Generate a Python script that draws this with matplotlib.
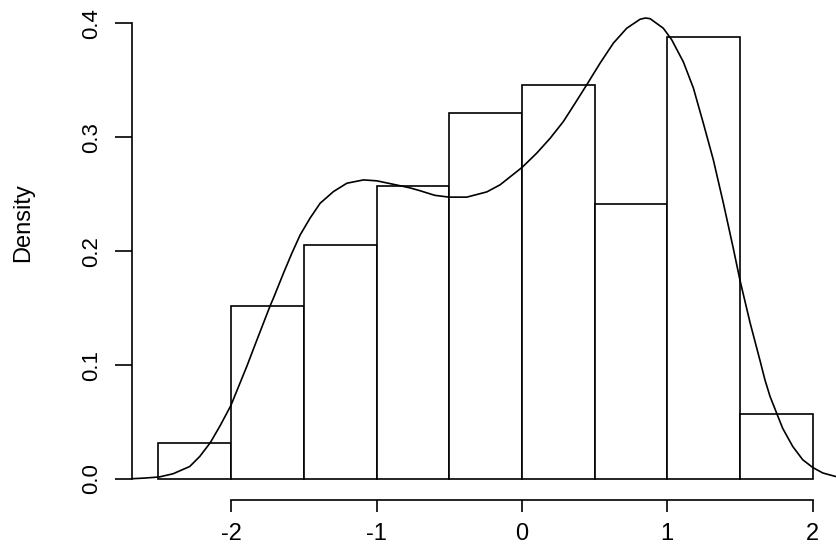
import matplotlib
matplotlib.use("Agg")
import matplotlib.pyplot as plt

# histogram (density scale)
breaks = [-2.5, -2.0, -1.5, -1.0, -0.5, 0.0, 0.5, 1.0, 1.5, 2.0]
density = [0.032, 0.152, 0.205, 0.257, 0.321, 0.346, 0.241, 0.388, 0.057]

# kernel density curve
kde_x = [-2.68, -2.60, -2.495, -2.40, -2.285, -2.216, -2.143, -2.075, -2.002,
         -1.892, -1.823, -1.732, -1.709, -1.640, -1.583, -1.525, -1.457,
         -1.388, -1.296, -1.204, -1.090, -0.998, -0.860, -0.769, -0.700,
         -0.600, -0.501, -0.379, -0.241, -0.150, 0.003, 0.102, 0.194, 0.285,
         0.366, 0.450, 0.538, 0.629, 0.721, 0.813, 0.850, 0.882, 0.973,
         1.031, 1.111, 1.180, 1.248, 1.317, 1.386, 1.455, 1.501, 1.570,
         1.638, 1.672, 1.707, 1.755, 1.794, 1.863, 1.932, 2.000, 2.070,
         2.156, 2.200]
kde_y = [0.0003, 0.0008, 0.0018, 0.0046, 0.011, 0.0198, 0.032, 0.047, 0.0645,
         0.099, 0.122, 0.152, 0.1588, 0.1807, 0.198, 0.2143, 0.229,
         0.242, 0.2523, 0.2596, 0.2625, 0.2617, 0.258, 0.2555, 0.253,
         0.249, 0.2474, 0.2474, 0.252, 0.2582, 0.2737, 0.286, 0.299, 0.3137,
         0.3298, 0.3468, 0.365, 0.3825, 0.3956, 0.4035, 0.4046, 0.404, 0.3956,
         0.3854, 0.366, 0.343, 0.3123, 0.2801, 0.2421, 0.202, 0.174, 0.137,
         0.104, 0.087, 0.0725, 0.057, 0.0445, 0.0286, 0.0169, 0.0102, 0.0053,
         0.0023, 0.0015]

x_ticks = [-2, -1, 0, 1, 2]
x_labels = ["-2", "-1", "0", "1", "2"]
y_ticks = [0.0, 0.1, 0.2, 0.3, 0.4]
y_labels = ["0.0", "0.1", "0.2", "0.3", "0.4"]

W, H = 836, 556
fig = plt.figure(figsize=(W / 100, H / 100), dpi=100)
font = ["Liberation Sans", "DejaVu Sans"]

# plot region in pixels (left edge at the y axis, bottom at the x axis)
left_px, right_px, bottom_px, top_px = 132.3, 838.8, 500.0, 0.0
ax = fig.add_axes([left_px / W, (H - bottom_px) / H,
                   (right_px - left_px) / W, (bottom_px - top_px) / H])
ax.set_xlim(-2.68, 2.18)
ax.set_ylim(-0.0184, 0.4204)

widths = [breaks[i + 1] - breaks[i] for i in range(len(density))]
ax.bar(breaks[:-1], density, width=widths, align="edge",
       facecolor="white", edgecolor="black", linewidth=1.2)
ax.plot(kde_x, kde_y, color="black", linewidth=1.2)

for s in ["top", "right"]:
    ax.spines[s].set_visible(False)
ax.spines["left"].set_bounds(0, 0.4)
ax.spines["bottom"].set_bounds(-2, 2)
for s in ["left", "bottom"]:
    ax.spines[s].set_linewidth(1.2)

ax.set_xticks(x_ticks)
ax.set_xticklabels(x_labels, family=font, fontsize=17)
ax.set_yticks(y_ticks)
ax.set_yticklabels(y_labels, family=font, fontsize=16, rotation=90,
                   va="center")
ax.tick_params(axis="x", length=8.6, width=1.2, pad=8.3)
ax.tick_params(axis="y", length=12.2, width=1.2, pad=9.2)

fig.text(23.5 / W, (H - 222.5) / H, "Density", family=font, fontsize=17,
         rotation=90, ha="center", va="center")

fig.savefig("out.png", dpi=100)
